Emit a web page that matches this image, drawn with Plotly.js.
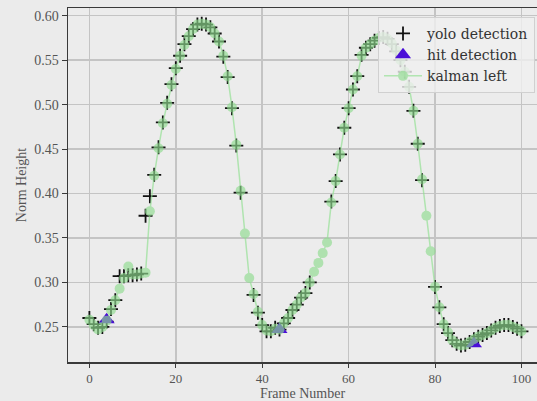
<!DOCTYPE html>
<html>
<head>
<meta charset="utf-8">
<script src="https://cdn.plot.ly/plotly-3.0.1.min.js"></script>
<style>
html,body{margin:0;padding:0;background:#ebebeb;}
#chart{width:537px;height:401px;}
</style>
</head>
<body>
<div id="chart"></div>
<script>
// Frame numbers 0..100
const frames = [];
for (let i = 0; i <= 100; i++) frames.push(i);

// yolo detection (null = no detection)
const yoloValues = [
  0.260,0.253,0.249,0.250,0.256,0.270,0.280,0.307,0.307,0.308,
  0.308,0.309,0.310,0.375,0.397,0.421,0.452,0.480,0.502,0.523,
  0.541,0.555,0.568,0.577,0.585,0.590,0.591,0.590,0.587,0.580,
  0.571,0.554,0.531,0.496,0.454,0.401,null,null,0.286,0.266,
  0.252,0.245,0.245,0.249,0.247,0.254,0.260,0.269,0.275,0.283,
  0.288,0.300,null,null,null,null,0.391,0.414,0.444,0.474,
  0.496,0.517,0.532,0.556,0.564,0.568,0.572,0.575,0.576,0.574,
  0.568,0.560,0.550,0.537,0.520,0.493,0.456,0.415,null,null,
  0.295,0.272,0.253,0.243,0.235,0.231,0.229,0.230,0.233,0.236,
  0.239,0.241,0.243,0.246,0.249,0.251,0.252,0.252,0.250,0.248,
  0.245
];

// kalman left estimate
const kalmanValues = [
  0.258,0.252,0.247,0.250,0.257,0.269,0.280,0.293,0.305,0.318,
  0.309,0.309,0.310,0.311,0.380,0.420,0.451,0.479,0.501,0.522,
  0.540,0.555,0.567,0.577,0.585,0.590,0.591,0.590,0.587,0.580,
  0.571,0.555,0.532,0.497,0.455,0.403,0.355,0.305,0.287,0.267,
  0.252,0.246,0.245,0.248,0.247,0.254,0.260,0.269,0.275,0.283,
  0.288,0.300,0.312,0.322,0.333,0.345,0.390,0.414,0.444,0.474,
  0.496,0.517,0.532,0.555,0.564,0.568,0.572,0.575,0.576,0.574,
  0.569,0.561,0.550,0.537,0.520,0.493,0.456,0.416,0.375,0.335,
  0.295,0.272,0.253,0.244,0.235,0.231,0.229,0.230,0.233,0.236,
  0.239,0.241,0.243,0.246,0.249,0.251,0.252,0.252,0.250,0.248,
  0.245
];

// hit detections
const hitFrames = [4, 44, 89];
const hitValues = [0.258, 0.247, 0.231];

const xTicks = [0, 20, 40, 60, 80, 100];
const yTicks = [0.25, 0.30, 0.35, 0.40, 0.45, 0.50, 0.55, 0.60];

const serif = 'Liberation Serif, Times New Roman, serif';

const traces = [
  {
    x: frames, y: yoloValues, type: 'scatter', mode: 'markers',
    name: 'yolo detection',
    marker: {symbol: 'cross-thin', size: 10, color: '#111', line: {color: '#111', width: 1.8}}
  },
  {
    x: hitFrames, y: hitValues, type: 'scatter', mode: 'markers',
    name: 'hit detection',
    marker: {symbol: 'triangle-up', size: 14, color: '#4a0fd8'}
  },
  {
    x: frames, y: kalmanValues, type: 'scatter', mode: 'lines+markers',
    name: 'kalman left',
    opacity: 0.65,
    line: {color: '#90e090', width: 1.5},
    marker: {symbol: 'circle', size: 10, color: '#8fdc8f'}
  }
];

const layout = {
  width: 537, height: 401,
  paper_bgcolor: '#ebebeb', plot_bgcolor: '#ececec',
  margin: {l: 68, r: 0, t: 8, b: 39},
  showlegend: true,
  font: {family: serif, color: '#555', size: 14},
  xaxis: {
    range: [-4.95, 103.6], tickvals: xTicks, ticktext: xTicks.map(String),
    showgrid: true, gridcolor: '#c4c4c4', gridwidth: 1.5,
    zeroline: false, showline: true, linecolor: '#3a3a3a', linewidth: 1.5,
    mirror: true, ticks: 'outside', ticklen: 4, tickcolor: '#3a3a3a',
    tickfont: {family: serif, size: 13, color: '#555'},
    title: {text: 'Frame Number', font: {family: serif, size: 14, color: '#555'}}
  },
  yaxis: {
    range: [0.2105, 0.6087], tickvals: yTicks, ticktext: yTicks.map(v => v.toFixed(2)),
    showgrid: true, gridcolor: '#c4c4c4', gridwidth: 1.5,
    zeroline: false, showline: true, linecolor: '#3a3a3a', linewidth: 1.5,
    ticks: 'outside', ticklen: 5, tickcolor: '#3a3a3a',
    tickfont: {family: serif, size: 14, color: '#555'},
    title: {text: 'Norm Height', font: {family: serif, size: 14, color: '#555'}, standoff: 4}
  },
  legend: {
    x: 0.661, y: 0.975, xanchor: 'left', yanchor: 'top',
    bgcolor: 'rgba(240,240,240,0.8)', bordercolor: '#d0d0d0', borderwidth: 1,
    itemwidth: 38,
    font: {family: 'DejaVu Serif, serif', size: 14, color: '#333'}
  }
};

Plotly.newPlot('chart', traces, layout, {displayModeBar: false, staticPlot: true});
</script>
</body>
</html>
